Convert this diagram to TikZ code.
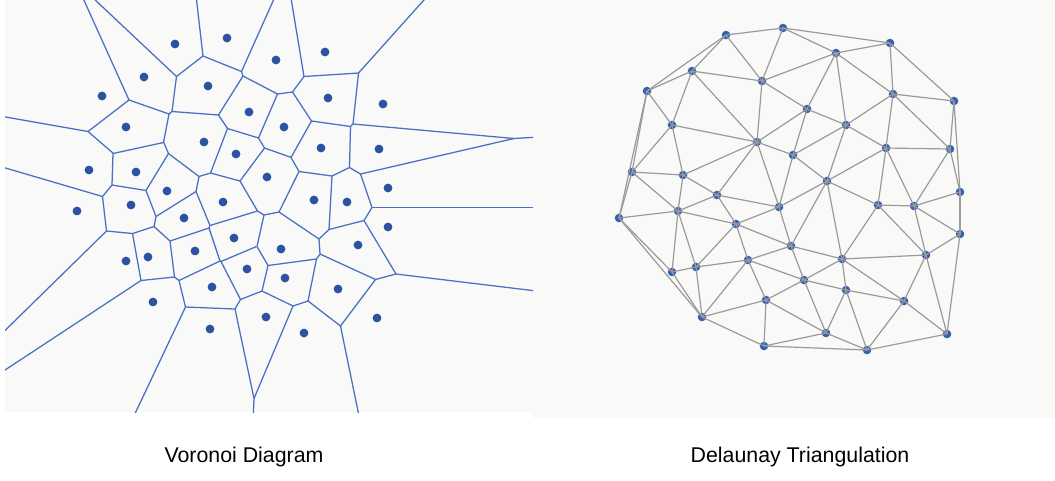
\documentclass[tikz,border=0pt]{standalone}
\usepackage{fontspec}
\setmainfont{Liberation Sans}
\definecolor{panelbg}{HTML}{F9F9F8}
\definecolor{vline}{HTML}{4A70C4}
\definecolor{vsite}{HTML}{2B52A3}
\definecolor{dline}{HTML}{9A9A9A}
\definecolor{dsite}{HTML}{3560B2}

% sites, in pixel coordinates of the reference
\def\Lsites{175/44,227/38,276/60,325/52,144/77,208/86,102/96,249/112,328/98,383/104,
126/127,284/127,204/142,236/154,321/148,379/149,89/170,136/172,267/177,167/191,
388/188,223/202,131/205,77/211,314/200,347/202,184/218,388/227,234/238,195/251,
281/249,358/245,148/257,126/261,247/269,285/278,212/287,338/289,153/302,266/317,
210/329,304/333,377/318}
\def\Dsites{726/35,783/28,836/53,890/43,692/71,762/81,647/91,807/109,893/94,954/101,
672/125,846/125,757/142,886/148,950/149,793/155,632/172,683/175,827/181,960/192,
717/195,779/207,878/205,914/206,619/218,678/211,736/224,960/234,791/246,842/259,
926/255,748/260,696/267,672/272,804/280,846/290,766/300,904/301,702/317,826/333,
947/334,764/346,867/350}

\foreach[count=\n] \x/\y in \Lsites {%
  \expandafter\xdef\csname Lx@\n\endcsname{\x}%
  \expandafter\xdef\csname Ly@\n\endcsname{\y}}
\foreach[count=\n] \x/\y in \Dsites {%
  \expandafter\xdef\csname Dx@\n\endcsname{\x}%
  \expandafter\xdef\csname Dy@\n\endcsname{\y}}

\newcount\vi \newcount\vj \newcount\vk \newcount\vN
\newcount\vdx \newcount\vdy \newcount\vex \newcount\vey
\newcount\vue \newcount\vcc \newcount\vlo \newcount\vhi \newcount\vb
\newcount\vax \newcount\vay \newcount\vfar

\def\sitex#1#2{\csname #1x@\number#2\endcsname}
\def\sitey#1#2{\csname #1y@\number#2\endcsname}

% one site k restricts the stretch of the bisector of (i,j) that is nearest to i and j
\def\pairstep#1{%
  \edef\vxk{\sitex{#1}\vk}\edef\vyk{\sitey{#1}\vk}%
  \vex=\numexpr\vxk-\sitex{#1}\vi\relax
  \vey=\numexpr\vyk-\sitey{#1}\vi\relax
  \vue=\numexpr\vdx*\vey-\vdy*\vex\relax
  \vcc=\numexpr\vex*(\vxk-\sitex{#1}\vj)+\vey*(\vyk-\sitey{#1}\vj)\relax
  \ifnum\vue>0
    \vb=\numexpr\vcc*500/\vue\relax
    \ifnum\vb<\vhi \vhi=\vb \fi
  \else
    \ifnum\vue<0
      \vb=\numexpr\vcc*500/\vue\relax
      \ifnum\vb>\vlo \vlo=\vb \fi
    \else
      \ifnum\vcc<0 \vlo=\vhi \fi
    \fi
  \fi}

\def\pairtest#1{%
  \vdx=\numexpr\sitex{#1}\vj-\sitex{#1}\vi\relax
  \vdy=\numexpr\sitey{#1}\vj-\sitey{#1}\vi\relax
  \vlo=-1000000000 \vhi=1000000000
  \vk=0
  \loop
    \advance\vk by 1
    \ifnum\vk=\vi\else\ifnum\vk=\vj\else\pairstep{#1}\fi\fi
  \ifnum\vk<\vN\repeat}

\def\drawvedge{%
  \ifnum\vdx<0 \vax=-\vdx \else \vax=\vdx \fi
  \ifnum\vdy<0 \vay=-\vdy \else \vay=\vdy \fi
  \ifnum\vay>\vax \vax=\vay \fi
  \vfar=\numexpr 1500000/\vax\relax
  \ifnum\vlo<-\vfar \vlo=-\vfar \fi
  \ifnum\vhi>\vfar \vhi=\vfar \fi
  \ifnum\vlo<\vhi
    \edef\pxa{\the\numexpr\sitex{L}\vi+\sitex{L}\vj-\vlo*\vdy/500\relax}%
    \edef\pya{\the\numexpr\sitey{L}\vi+\sitey{L}\vj+\vlo*\vdx/500\relax}%
    \edef\pxb{\the\numexpr\sitex{L}\vi+\sitex{L}\vj-\vhi*\vdy/500\relax}%
    \edef\pyb{\the\numexpr\sitey{L}\vi+\sitey{L}\vj+\vhi*\vdx/500\relax}%
    \draw[vedge] (\pxa*0.5,\pya*0.5) -- (\pxb*0.5,\pyb*0.5);
  \fi}

\def\voronoiall{%
  \vN=43
  \foreach \a in {1,...,42}{%
    \pgfmathtruncatemacro\bst{\a+1}%
    \foreach \b in {\bst,...,43}{%
      \vi=\a \vj=\b
      \pairtest{L}%
      \ifnum\vlo<\vhi \drawvedge \fi}}}

\def\delaunayall{%
  \vN=43
  \foreach \a in {1,...,42}{%
    \pgfmathtruncatemacro\bst{\a+1}%
    \foreach \b in {\bst,...,43}{%
      \vi=\a \vj=\b
      \pairtest{D}%
      \ifnum\vlo<\vhi \draw[dedge] (d\a.center) -- (d\b.center);\fi}}}

\begin{document}
\begin{tikzpicture}[x=0.75pt,y=-0.75pt,
  vedge/.style={draw=vline, line width=0.95pt},
  vdot/.style={circle, fill=vsite, inner sep=0pt, minimum size=6.6pt},
  dedge/.style={draw=dline, line width=0.9pt},
  ddot/.style={circle, fill=dsite, inner sep=0pt, minimum size=6.4pt},
  lab/.style={font=\fontsize{16}{19}\selectfont, text=black, inner sep=0pt}]
\useasboundingbox (0,0) rectangle (1055,480);
\fill[white] (0,0) rectangle (1055,480);
\fill[panelbg] (5,0) rectangle (533,412);
\fill[panelbg] (533,0) rectangle (1055,418);
% Voronoi diagram
\begin{scope}
  \clip (5,0) rectangle (533,412);
  \voronoiall
\end{scope}
\foreach[count=\n] \x/\y in \Lsites {\node[vdot] (v\n) at (\x,\y) {};}
% Delaunay triangulation
\foreach[count=\n] \x/\y in \Dsites {\node[ddot] (d\n) at (\x,\y) {};}
\delaunayall
% captions
\node[lab] (vlabel) at (244,457) {Voronoi Diagram};
\node[lab] (dlabel) at (800,457) {Delaunay Triangulation};
\end{tikzpicture}
\end{document}
